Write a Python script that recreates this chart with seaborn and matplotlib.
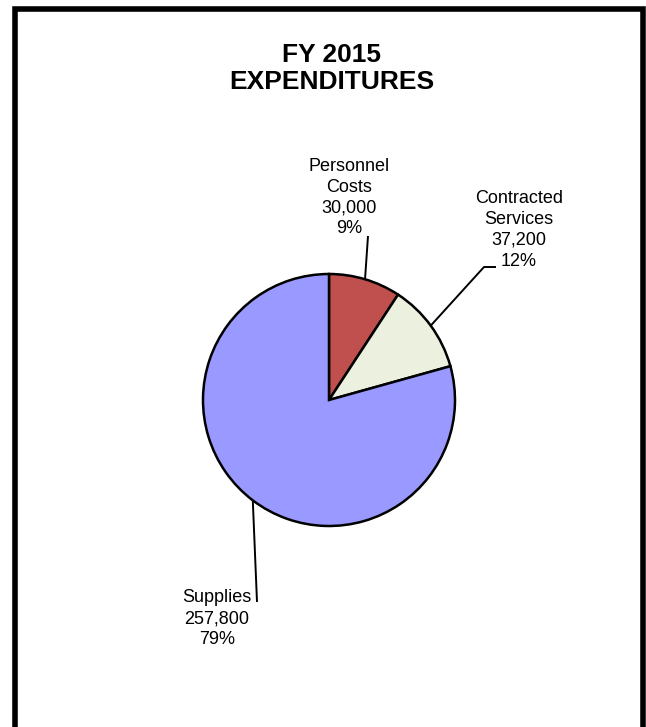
import matplotlib
matplotlib.use("Agg")
import matplotlib.pyplot as plt
import seaborn as sns
import numpy as np
from matplotlib.patches import Rectangle

# FY 2015 expenditure breakdown
categories = ["Personnel\nCosts", "Contracted\nServices", "Supplies"]
amounts = [30000, 37200, 257800]
percent_labels = ["9%", "12%", "79%"]
title_lines = ["FY 2015", "EXPENDITURES"]

sns.set_theme(style="white")
plt.rcParams["font.family"] = ["Liberation Sans", "DejaVu Sans"]

W, H = 646, 727
slice_colors = ["#C0504D", "#EBF1DE", "#9999FF"]


def py(y):
    """Convert a top-down pixel row into the axes' bottom-up y value."""
    return H - y


fig = plt.figure(figsize=(W / 100, H / 100), dpi=100)
ax = fig.add_axes([0, 0, 1, 1])

cx, cy, r = 329, py(400), 126
wedges, _ = ax.pie(
    amounts,
    colors=slice_colors,
    startangle=90,
    counterclock=False,
    center=(cx, cy),
    radius=r,
    wedgeprops=dict(edgecolor="black", linewidth=1.8),
)
ax.set_xlim(0, W)
ax.set_ylim(0, H)
ax.set_aspect("equal")
ax.set_axis_off()


def edge_point(w):
    mid = np.deg2rad((w.theta1 + w.theta2) / 2)
    return cx + r * np.cos(mid), cy + r * np.sin(mid)


# leader lines (pixel waypoints after the wedge edge) and label anchors
leaders = [
    [(368, 236)],
    [(484, 267), (496, 267)],
    [(257, 602)],
]
label_pos = [(349, 197.5), (519, 230), (217, 618.5)]

for w, cat, amt, pct, pts, (lx, ly) in zip(wedges, categories, amounts,
                                           percent_labels, leaders, label_pos):
    ex, ey = edge_point(w)
    xs = [ex] + [p[0] for p in pts]
    ys = [ey] + [py(p[1]) for p in pts]
    ax.plot(xs, ys, color="black", lw=1.4, solid_capstyle="butt")
    ax.text(lx, py(ly), f"{cat}\n{amt:,}\n{pct}", ha="center", va="center",
            fontsize=13, color="black", linespacing=1.3)

ax.text(332, py(55), title_lines[0], ha="center", va="center",
        fontsize=19, fontweight="bold", color="black")
ax.text(332, py(82), title_lines[1], ha="center", va="center",
        fontsize=19, fontweight="bold", color="black")

# outer frame around the chart area
ax.add_patch(Rectangle((14.5, -10), 628.5, H - 8.5 + 10, fill=False,
                       edgecolor="black", lw=4, clip_on=False))

fig.savefig("out.png", dpi=100, facecolor="white")
